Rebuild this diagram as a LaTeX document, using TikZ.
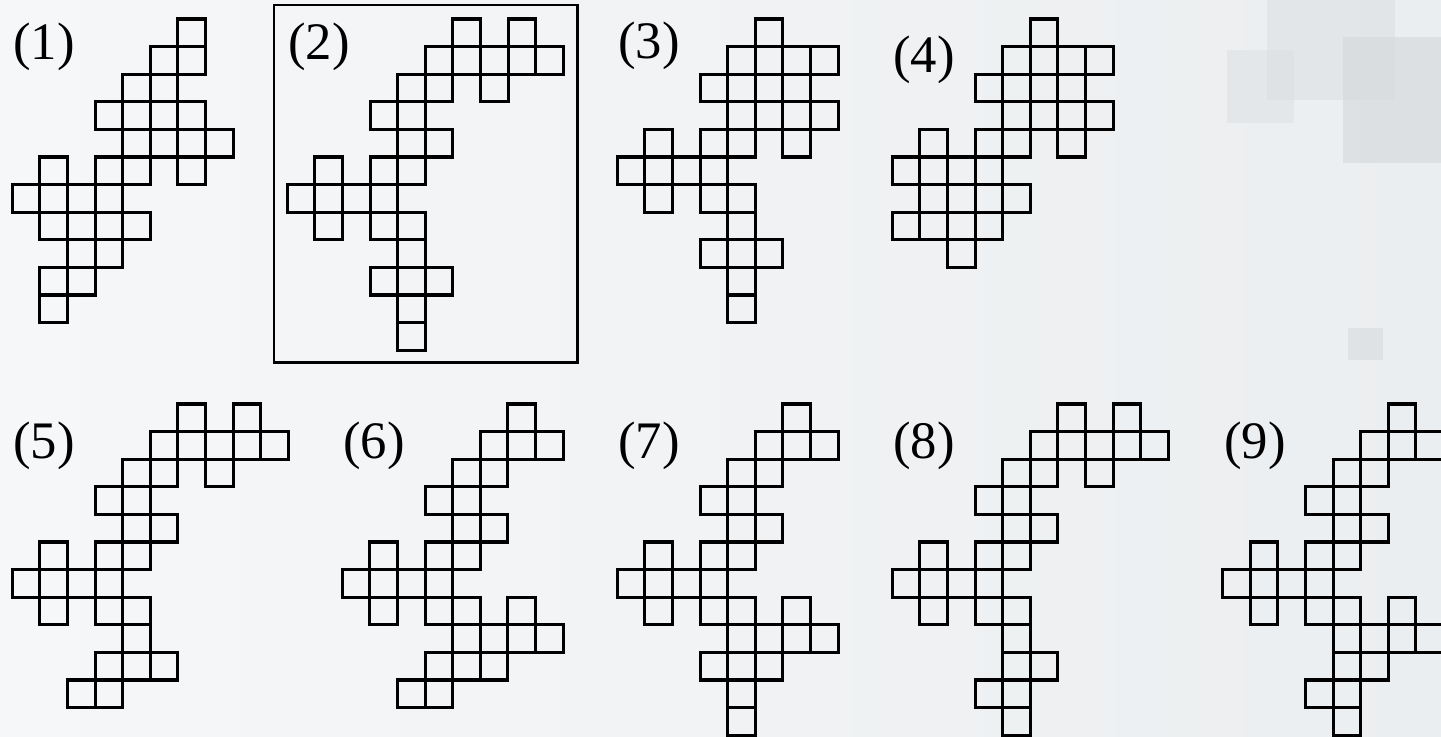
\documentclass[tikz,border=0pt]{standalone}
\usepackage{fontspec}
\setmainfont{Liberation Serif}
\definecolor{bgL}{HTML}{F6F7F8}
\definecolor{bgR}{HTML}{EBEEF0}
\definecolor{decoA}{HTML}{DCE0E3}
\definecolor{decoB}{HTML}{D3D8DB}
\tikzset{
  cell/.style={draw=black,line width=1.8pt,line join=miter},
  lbl/.style={inner sep=0pt,font=\fontsize{30}{34}\selectfont},
  frame/.style={draw=black,line width=1.5pt}
}
\newcommand\figcells[3]{%
  \begin{scope}[shift={(#1,#2)}]
    \foreach \c/\r in {#3} \draw[cell] (\c*27.6,\r*27.6) rectangle ++(27.6,27.6);
  \end{scope}}
\begin{document}
\begin{tikzpicture}[x=0.02cm,y=-0.02cm]
\useasboundingbox (0,0) rectangle (1441,737);
\clip (0,0) rectangle (1441,737);
% background
\fill[left color=bgL,right color=bgR] (0,0) rectangle (1441,737);
\fill[decoA,opacity=0.6] (1267,0) rectangle (1395,100);
\fill[decoA,opacity=0.5] (1227,50) rectangle (1294,123);
\fill[decoB,opacity=0.6] (1343,37) rectangle (1441,163);
\fill[decoB,opacity=0.5] (1348,328) rectangle (1383,360);
% figure 1
\node[lbl] (l1) at (44,47) {(1)};
\figcells{12.3}{19}{6/0,5/1,6/1,4/2,5/2,3/3,4/3,5/3,6/3,4/4,5/4,6/4,7/4,1/5,3/5,4/5,6/5,0/6,1/6,2/6,3/6,1/7,2/7,3/7,4/7,2/8,3/8,1/9,2/9,1/10}
% figure 2
\draw[frame] (274,5) rectangle (577.3,362.7);
\node[lbl] (l2) at (319,47) {(2)};
\figcells{287.3}{19}{6/0,8/0,5/1,6/1,7/1,8/1,9/1,4/2,5/2,7/2,3/3,4/3,4/4,5/4,1/5,3/5,4/5,0/6,1/6,2/6,3/6,1/7,3/7,4/7,4/8,3/9,4/9,5/9,4/10,4/11}
% figure 3
\node[lbl] (l3) at (649,46) {(3)};
\figcells{617.3}{19}{5/0,4/1,5/1,6/1,7/1,3/2,4/2,5/2,6/2,4/3,5/3,6/3,7/3,1/4,3/4,4/4,6/4,0/5,1/5,2/5,3/5,1/6,3/6,4/6,4/7,3/8,4/8,5/8,4/9,4/10}
% figure 4
\node[lbl] (l4) at (924,60) {(4)};
\figcells{892.3}{19}{5/0,4/1,5/1,6/1,7/1,3/2,4/2,5/2,6/2,4/3,5/3,6/3,7/3,1/4,3/4,4/4,6/4,0/5,1/5,2/5,3/5,1/6,2/6,3/6,4/6,0/7,1/7,2/7,3/7,2/8}
% figure 5
\node[lbl] (l5) at (44,446) {(5)};
\figcells{12.3}{404}{6/0,8/0,5/1,6/1,7/1,8/1,9/1,4/2,5/2,7/2,3/3,4/3,4/4,5/4,1/5,3/5,4/5,0/6,1/6,2/6,3/6,1/7,3/7,4/7,4/8,3/9,4/9,5/9,2/10,3/10}
% figure 6
\node[lbl] (l6) at (374,446) {(6)};
\figcells{342.3}{404}{6/0,5/1,6/1,7/1,4/2,5/2,3/3,4/3,4/4,5/4,1/5,3/5,4/5,0/6,1/6,2/6,3/6,1/7,3/7,4/7,6/7,4/8,5/8,6/8,7/8,3/9,4/9,5/9,2/10,3/10}
% figure 7
\node[lbl] (l7) at (649,446) {(7)};
\figcells{617.3}{404}{6/0,5/1,6/1,7/1,4/2,5/2,3/3,4/3,4/4,5/4,1/5,3/5,4/5,0/6,1/6,2/6,3/6,1/7,3/7,4/7,6/7,4/8,5/8,6/8,7/8,3/9,4/9,5/9,4/10,4/11}
% figure 8
\node[lbl] (l8) at (924,446) {(8)};
\figcells{892.3}{404}{6/0,8/0,5/1,6/1,7/1,8/1,9/1,4/2,5/2,7/2,3/3,4/3,4/4,5/4,1/5,3/5,4/5,0/6,1/6,2/6,3/6,1/7,3/7,4/7,4/8,4/9,5/9,3/10,4/10,4/11}
% figure 9
\node[lbl] (l9) at (1255,446) {(9)};
\figcells{1222.7}{404}{6/0,5/1,6/1,7/1,4/2,5/2,3/3,4/3,4/4,5/4,1/5,3/5,4/5,0/6,1/6,2/6,3/6,1/7,3/7,4/7,6/7,4/8,5/8,6/8,7/8,4/9,5/9,3/10,4/10,4/11}
\end{tikzpicture}
\end{document}
